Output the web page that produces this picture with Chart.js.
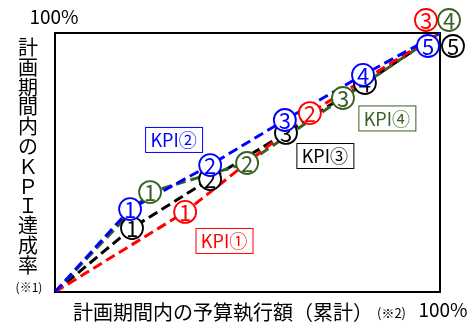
<!DOCTYPE html>
<html>
<head>
<meta charset="utf-8">
<script src="https://cdn.jsdelivr.net/npm/chart.js@4.4.1/dist/chart.umd.min.js"></script>
<style>
  html, body { margin: 0; padding: 0; background: #fff; }
  #wrap { width: 468px; height: 325px; position: relative; }
</style>
</head>
<body>
<div id="wrap"><canvas id="chart"></canvas></div>
<script>
// values, in % of plan (x: budget spent, y: KPI achieved)
const kpi1X = [0, 33.8, 66.2, 100];
const kpi1Y = [0, 30.9, 69.1, 100];
const kpi2X = [0, 19.5, 40.3, 59.7, 80.0, 100];
const kpi2Y = [0, 32.0, 49.0, 66.4, 83.8, 100];
const kpi3X = [0, 20.0, 40.3, 60.0, 80.5, 100];
const kpi3Y = [0, 24.7, 43.6, 61.4, 80.7, 100];
const kpi4X = [0, 24.7, 49.9, 74.8, 100];
const kpi4Y = [0, 38.6, 49.8, 74.9, 100];
const kpiNames = ['KPI①', 'KPI②', 'KPI③', 'KPI④'];
const axisMax = ['100%', '100%'];

const RED = '#ff0000', BLUE = '#0000ff', BLACK = '#000000', GREEN = '#376023';
const NARROW = '"Liberation Sans Narrow", "Noto Sans CJK JP", sans-serif';
const JP = '"Noto Sans CJK JP", sans-serif';

// where the name boxes sit (in axis units) and how the last marks are pushed off the corner
const nameBoxAt = { 'KPI①': [43.9, 19.9], 'KPI②': [30.8, 58.9], 'KPI③': [70.1, 52.7], 'KPI④': [86.2, 67.2] };
const endShift = { 'KPI①': [-14, -13], 'KPI②': [-12, 13], 'KPI③': [13, 13], 'KPI④': [9, -13] };

const pts = (xs, ys) => xs.map((x, i) => ({ x: x, y: ys[i] }));

const series = [
  { name: kpiNames[1], color: BLUE, data: pts(kpi2X, kpi2Y) },
  { name: kpiNames[0], color: RED, data: pts(kpi1X, kpi1Y) },
  { name: kpiNames[3], color: GREEN, data: pts(kpi4X, kpi4Y) },
  { name: kpiNames[2], color: BLACK, data: pts(kpi3X, kpi3Y) },
];

const decor = {
  id: 'decor',
  beforeDatasetsDraw(chart) {
    const { ctx, chartArea: a } = chart;
    ctx.save();
    ctx.strokeStyle = '#000';
    ctx.lineWidth = 2;
    ctx.strokeRect(a.left, a.top, a.right - a.left, a.bottom - a.top);
    ctx.restore();
  },
  afterDatasetsDraw(chart) {
    const { ctx, scales } = chart;
    ctx.save();
    ctx.textAlign = 'center';
    ctx.textBaseline = 'middle';

    // circled step numbers, black underneath, blue on top
    for (let d = chart.data.datasets.length - 1; d >= 0; d--) {
      const ds = chart.data.datasets[d];
      const meta = chart.getDatasetMeta(d);
      const last = meta.data.length - 1;
      meta.data.forEach((p, i) => {
        if (i === 0) return;
        let x = p.x, y = p.y;
        if (i === last) { x += endShift[ds.label][0]; y += endShift[ds.label][1]; }
        ctx.beginPath();
        ctx.arc(x, y, 11, 0, Math.PI * 2);
        ctx.fillStyle = '#fff';
        ctx.fill();
        ctx.lineWidth = 1.8;
        ctx.strokeStyle = ds.borderColor;
        ctx.stroke();
        ctx.fillStyle = ds.borderColor;
        ctx.font = '22px ' + NARROW;
        ctx.fillText(String(i), x, y + 1);
      });
    }

    // name boxes
    chart.data.datasets.forEach(ds => {
      const pos = nameBoxAt[ds.label];
      const cx = scales.x.getPixelForValue(pos[0]);
      const cy = scales.y.getPixelForValue(pos[1]);
      const w = 57, h = 25;
      ctx.fillStyle = '#fff';
      ctx.fillRect(cx - w / 2, cy - h / 2, w, h);
      ctx.strokeStyle = ds.borderColor;
      ctx.lineWidth = 1;
      ctx.strokeRect(cx - w / 2 + 0.5, cy - h / 2 + 0.5, w, h);
      ctx.fillStyle = ds.borderColor;
      ctx.font = '18px ' + NARROW;
      ctx.fillText(ds.label, cx, cy + 1);
    });

    // axis texts
    ctx.fillStyle = '#000';
    ctx.font = '19px ' + NARROW;
    ctx.fillText(axisMax[1], 54, 17);
    ctx.fillText(axisMax[0], 443, 310);

    ctx.font = '20px ' + JP;
    const yTitle = '計画期間内のＫＰＩ達成率';
    [...yTitle].forEach((ch, i) => ctx.fillText(ch, 28, 47.5 + i * 19.8));
    ctx.font = '12px ' + JP;
    ctx.fillText('(※1)', 29, 287);

    ctx.textAlign = 'left';
    ctx.font = '20px ' + JP;
    ctx.fillText('計画期間内の予算執行額（累計）', 73, 312);
    ctx.font = '13px ' + JP;
    ctx.fillText('(※2)', 377, 313);
    ctx.restore();
  }
};

new Chart(document.getElementById('chart'), {
  type: 'line',
  data: {
    datasets: series.map(s => ({
      label: s.name,
      data: s.data,
      borderColor: s.color,
      borderWidth: 3,
      borderDash: [10, 5],
      pointRadius: 0,
      tension: 0,
      fill: false,
    })),
  },
  options: {
    responsive: true,
    maintainAspectRatio: false,
    animation: false,
    layout: { padding: { left: 55, top: 33, right: 28, bottom: 33 } },
    scales: {
      x: { type: 'linear', min: 0, max: 100, display: false },
      y: { type: 'linear', min: 0, max: 100, display: false },
    },
    plugins: { legend: { display: false }, tooltip: { enabled: false } },
  },
  plugins: [decor],
});
</script>
</body>
</html>
